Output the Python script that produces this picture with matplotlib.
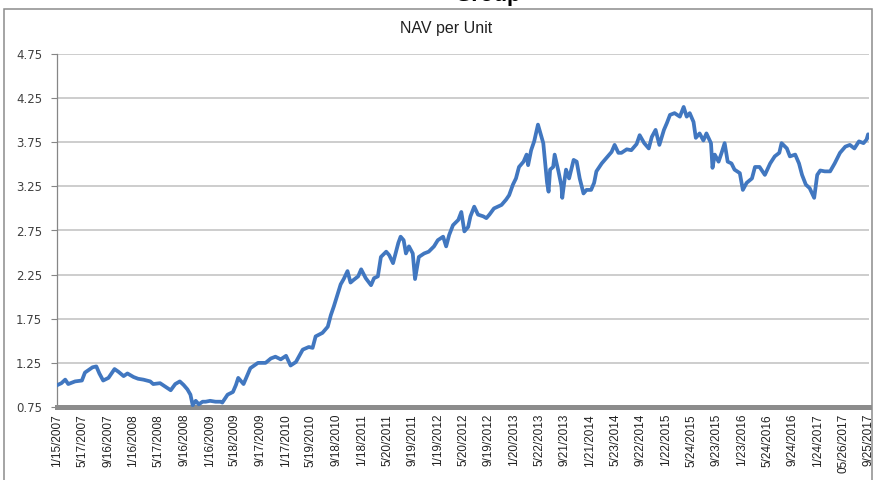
import numpy as np
import pandas as pd
import matplotlib
matplotlib.use("Agg")
import matplotlib.pyplot as plt
from matplotlib.patches import Rectangle

# NAV per unit (decimal years -> value)
years = [
    2007.04, 2007.09, 2007.14, 2007.18, 2007.27, 2007.36, 2007.40, 2007.50, 2007.55, 2007.59,
    2007.64, 2007.71, 2007.79, 2007.84, 2007.91, 2007.96, 2008.04, 2008.10, 2008.17, 2008.26,
    2008.30, 2008.39, 2008.46, 2008.53, 2008.59, 2008.65, 2008.70, 2008.75, 2008.79, 2008.82,
    2008.86, 2008.90, 2008.95, 2008.99, 2009.05, 2009.12, 2009.19, 2009.21, 2009.28, 2009.35,
    2009.39, 2009.42, 2009.49, 2009.58, 2009.68, 2009.78, 2009.85, 2009.91, 2009.98, 2010.05,
    2010.11, 2010.18, 2010.27, 2010.35, 2010.40, 2010.44, 2010.53, 2010.60, 2010.64, 2010.68,
    2010.73, 2010.77, 2010.81, 2010.86, 2010.90, 2010.94, 2011.00, 2011.04, 2011.10, 2011.17,
    2011.21, 2011.26, 2011.30, 2011.37, 2011.41, 2011.46, 2011.53, 2011.56, 2011.60, 2011.63,
    2011.67, 2011.72, 2011.75, 2011.80, 2011.87, 2011.93, 2012.00, 2012.05, 2012.12, 2012.16,
    2012.20, 2012.25, 2012.32, 2012.36, 2012.40, 2012.45, 2012.48, 2012.53, 2012.58, 2012.65,
    2012.69, 2012.73, 2012.79, 2012.89, 2012.95, 2012.99, 2013.04, 2013.08, 2013.12, 2013.18,
    2013.22, 2013.24, 2013.28, 2013.32, 2013.37, 2013.41, 2013.44, 2013.47, 2013.49, 2013.51,
    2013.53, 2013.57, 2013.59, 2013.64, 2013.68, 2013.69, 2013.72, 2013.74, 2013.78, 2013.84,
    2013.88, 2013.92, 2013.97, 2014.01, 2014.07, 2014.11, 2014.14, 2014.21, 2014.27, 2014.34,
    2014.38, 2014.43, 2014.47, 2014.54, 2014.60, 2014.67, 2014.71, 2014.77, 2014.83, 2014.87,
    2014.92, 2014.97, 2015.03, 2015.07, 2015.11, 2015.17, 2015.24, 2015.29, 2015.33, 2015.37,
    2015.42, 2015.45, 2015.50, 2015.55, 2015.59, 2015.65, 2015.67, 2015.70, 2015.75, 2015.79,
    2015.83, 2015.87, 2015.92, 2015.96, 2016.03, 2016.07, 2016.12, 2016.19, 2016.23, 2016.29,
    2016.36, 2016.43, 2016.49, 2016.55, 2016.58, 2016.65, 2016.69, 2016.76, 2016.81, 2016.85,
    2016.90, 2016.95, 2017.01, 2017.05, 2017.09, 2017.15, 2017.22, 2017.28, 2017.35, 2017.42,
    2017.48, 2017.54, 2017.60, 2017.66, 2017.70, 2017.72, 2017.74,
]
nav = [
    1.00, 1.02, 1.06, 1.01, 1.04, 1.05, 1.14, 1.20, 1.21, 1.13,
    1.05, 1.08, 1.18, 1.15, 1.10, 1.13, 1.09, 1.07, 1.06, 1.04,
    1.01, 1.02, 0.98, 0.94, 1.01, 1.04, 1.00, 0.95, 0.89, 0.77,
    0.82, 0.78, 0.81, 0.81, 0.82, 0.81, 0.81, 0.80, 0.89, 0.92,
    1.00, 1.08, 1.01, 1.19, 1.25, 1.25, 1.30, 1.32, 1.29, 1.33,
    1.22, 1.26, 1.40, 1.43, 1.42, 1.55, 1.59, 1.66, 1.79, 1.89,
    2.03, 2.14, 2.20, 2.29, 2.16, 2.19, 2.23, 2.31, 2.21, 2.13,
    2.21, 2.23, 2.45, 2.51, 2.47, 2.38, 2.61, 2.68, 2.64, 2.49,
    2.57, 2.49, 2.20, 2.45, 2.49, 2.51, 2.57, 2.64, 2.68, 2.57,
    2.70, 2.81, 2.87, 2.96, 2.74, 2.79, 2.91, 3.02, 2.93, 2.91,
    2.89, 2.93, 3.00, 3.04, 3.10, 3.15, 3.27, 3.34, 3.47, 3.53,
    3.61, 3.49, 3.66, 3.76, 3.95, 3.83, 3.74, 3.47, 3.29, 3.19,
    3.44, 3.47, 3.61, 3.42, 3.25, 3.12, 3.32, 3.44, 3.34, 3.55,
    3.53, 3.34, 3.17, 3.21, 3.21, 3.29, 3.42, 3.51, 3.57, 3.64,
    3.72, 3.63, 3.63, 3.67, 3.66, 3.73, 3.83, 3.74, 3.68, 3.81,
    3.89, 3.72, 3.89, 3.97, 4.06, 4.08, 4.04, 4.15, 4.04, 4.08,
    3.98, 3.80, 3.85, 3.77, 3.85, 3.74, 3.46, 3.61, 3.53, 3.63,
    3.74, 3.53, 3.51, 3.44, 3.40, 3.21, 3.29, 3.34, 3.47, 3.47,
    3.38, 3.51, 3.59, 3.63, 3.74, 3.68, 3.59, 3.61, 3.51, 3.38,
    3.27, 3.23, 3.12, 3.38, 3.43, 3.42, 3.42, 3.51, 3.63, 3.70,
    3.72, 3.68, 3.76, 3.74, 3.78, 3.84, 3.81,
]

tick_labels = [
    "1/15/2007", "5/17/2007", "9/16/2007", "1/16/2008", "5/17/2008", "9/16/2008",
    "1/16/2009", "5/18/2009", "9/17/2009", "1/17/2010", "5/19/2010", "9/18/2010",
    "1/18/2011", "5/20/2011", "9/19/2011", "1/19/2012", "5/20/2012", "9/19/2012",
    "1/20/2013", "5/22/2013", "9/21/2013", "1/21/2014", "5/23/2014", "9/22/2014",
    "1/22/2015", "5/24/2015", "9/23/2015", "1/23/2016", "5/24/2016", "9/24/2016",
    "1/24/2017", "05/26/2017", "9/25/2017",
]
y_ticks = [0.75, 1.25, 1.75, 2.25, 2.75, 3.25, 3.75, 4.25, 4.75]

yr = np.array(years)
dates = pd.to_datetime("2007-01-01") + pd.to_timedelta((yr - 2007) * 365.25, unit="D")
tick_dates = pd.to_datetime(tick_labels, format="%m/%d/%Y")

fig = plt.figure(figsize=(8.78, 4.80), dpi=100)
ax = fig.add_axes([57.5 / 878, 1 - 407 / 480, (869 - 57.5) / 878, (407 - 54) / 480])

ax.plot(dates, nav, color="#4177C0", lw=2.7, solid_joinstyle="round", zorder=3)

ax.set_xlim(tick_dates[0], tick_dates[-1])
ax.set_ylim(0.75, 4.75)
ax.set_yticks(y_ticks)
ax.set_yticklabels([f"{v:.2f}" for v in y_ticks], fontsize=8.5, color="#404040",
                   family="DejaVu Sans")
ax.set_xticks(tick_dates)
ax.set_xticklabels(tick_labels, rotation=90, fontsize=8.5, color="#202020",
                   family="Liberation Sans")
ax.tick_params(axis="y", length=4, color="#868686", pad=7)
ax.tick_params(axis="x", length=0, pad=5)

ax.grid(axis="y", color="#C0C0C0", lw=1.1)
ax.set_axisbelow(True)
for s in ["top", "right"]:
    ax.spines[s].set_visible(False)
ax.spines["left"].set_color("#868686")
ax.spines["left"].set_linewidth(0.9)
ax.spines["bottom"].set_color("#8C8C8C")
ax.spines["bottom"].set_linewidth(3.6)

fig.text(446 / 878, 1 - 28 / 480, "NAV per Unit", ha="center", va="center",
         fontsize=11.5, color="#202020", family="Liberation Sans")
# main title, mostly cut off by the top edge of the image
fig.text(487 / 878, 1 - 0.5 / 480, "Group", ha="center", va="baseline",
         fontsize=16, fontweight="bold", color="black", family="Liberation Sans")

# chart frame
fig.patches.append(Rectangle((4 / 878, -0.05), (872 - 4) / 878, 1.05 - 8.5 / 480,
                             transform=fig.transFigure, fill=False,
                             edgecolor="#8C8C8C", lw=1.1))

fig.savefig("out.png", dpi=100)
